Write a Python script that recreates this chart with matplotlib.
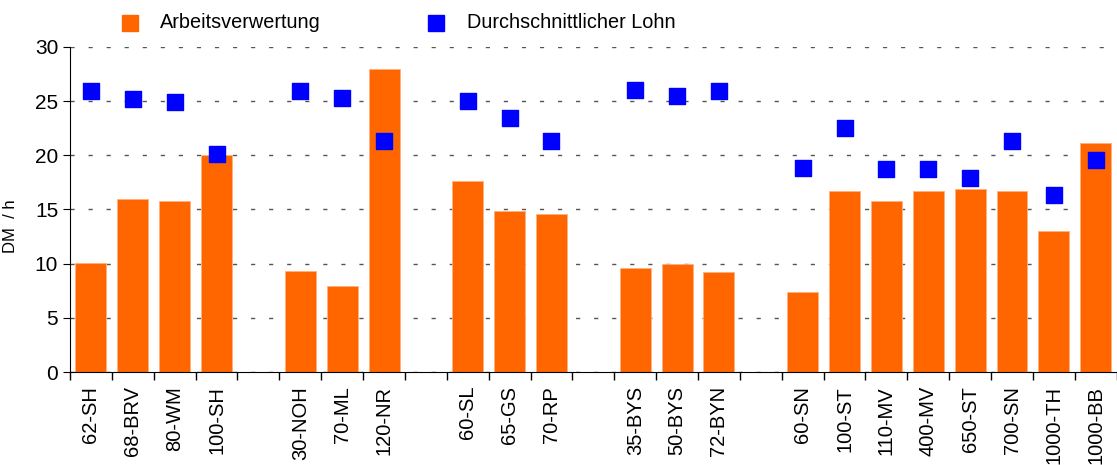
import matplotlib.pyplot as plt
from matplotlib.lines import Line2D
import numpy as np

plt.rcParams['font.family'] = ['Liberation Sans', 'DejaVu Sans']

# groups of farms, empty slot between groups
groups = [
    ['62-SH', '68-BRV', '80-WM', '100-SH'],
    ['30-NOH', '70-ML', '120-NR'],
    ['60-SL', '65-GS', '70-RP'],
    ['35-BYS', '50-BYS', '72-BYN'],
    ['60-SN', '100-ST', '110-MV', '400-MV', '650-ST', '700-SN', '1000-TH', '1000-BB'],
]
arbeitsverwertung = [10.1, 16.0, 15.8, 20.0,
                     9.3, 7.9, 28.0,
                     17.6, 14.9, 14.6,
                     9.6, 10.0, 9.2,
                     7.4, 16.7, 15.8, 16.7, 16.9, 16.7, 13.0, 21.1]
lohn = [25.9, 25.2, 24.9, 20.1,
        25.9, 25.3, 21.3,
        25.0, 23.4, 21.3,
        26.0, 25.5, 25.9,
        18.8, 22.5, 18.7, 18.7, 17.9, 21.3, 16.3, 19.6]
series_names = ['Arbeitsverwertung', 'Durchschnittlicher Lohn']
orange = '#FF6600'
blue = '#0000FF'

labels = []
pos = []
slot = 0
for g in groups:
    for name in g:
        labels.append(name)
        pos.append(slot)
        slot += 1
    slot += 1
nslots = slot - 1
pos = np.array(pos)

W, H = 1117, 465
fig = plt.figure(figsize=(W / 100, H / 100), dpi=100)
ax = fig.add_axes([0.0627, 0.2, 0.937, 0.699])

ax.bar(pos, arbeitsverwertung, width=0.74, color=orange, edgecolor='#FFB080',
       linewidth=0.6, zorder=2)
ax.scatter(pos, lohn, marker='s', s=135, color=blue, zorder=3)

ax.set_xlim(-0.5, nslots - 0.5)
ax.set_ylim(0, 30)
ax.set_yticks(range(0, 31, 5))
ax.yaxis.grid(True, color='#555555', linestyle=(0, (3, 10)), linewidth=1.0, zorder=0)
ax.set_axisbelow(True)

ax.set_xticks(pos)
ax.set_xticklabels(labels, rotation=90, fontsize=14.5)
ax.tick_params(axis='x', length=0, pad=10)
ax.set_xticks(np.arange(-0.5, nslots, 1.0), minor=True)
ax.tick_params(axis='x', which='minor', length=6, width=1, direction='out')
ax.tick_params(axis='y', labelsize=15, length=5, direction='out')

for s in ['top', 'right']:
    ax.spines[s].set_visible(False)

ax.set_ylabel('DM  / h', fontsize=12)
ax.yaxis.set_label_coords(-0.05, 0.45)

# legend drawn by hand so the spacing matches
for (xm, xt), name, col in zip([(130, 160), (436, 467)], series_names, [orange, blue]):
    fig.add_artist(Line2D([xm / W], [1 - 23 / H], marker='s', markersize=11,
                          color=col, linestyle='none', transform=fig.transFigure))
    fig.text(xt / W, 1 - 23 / H, name, fontsize=14.3, va='center', ha='left')

fig.savefig('out.png', dpi=100)
